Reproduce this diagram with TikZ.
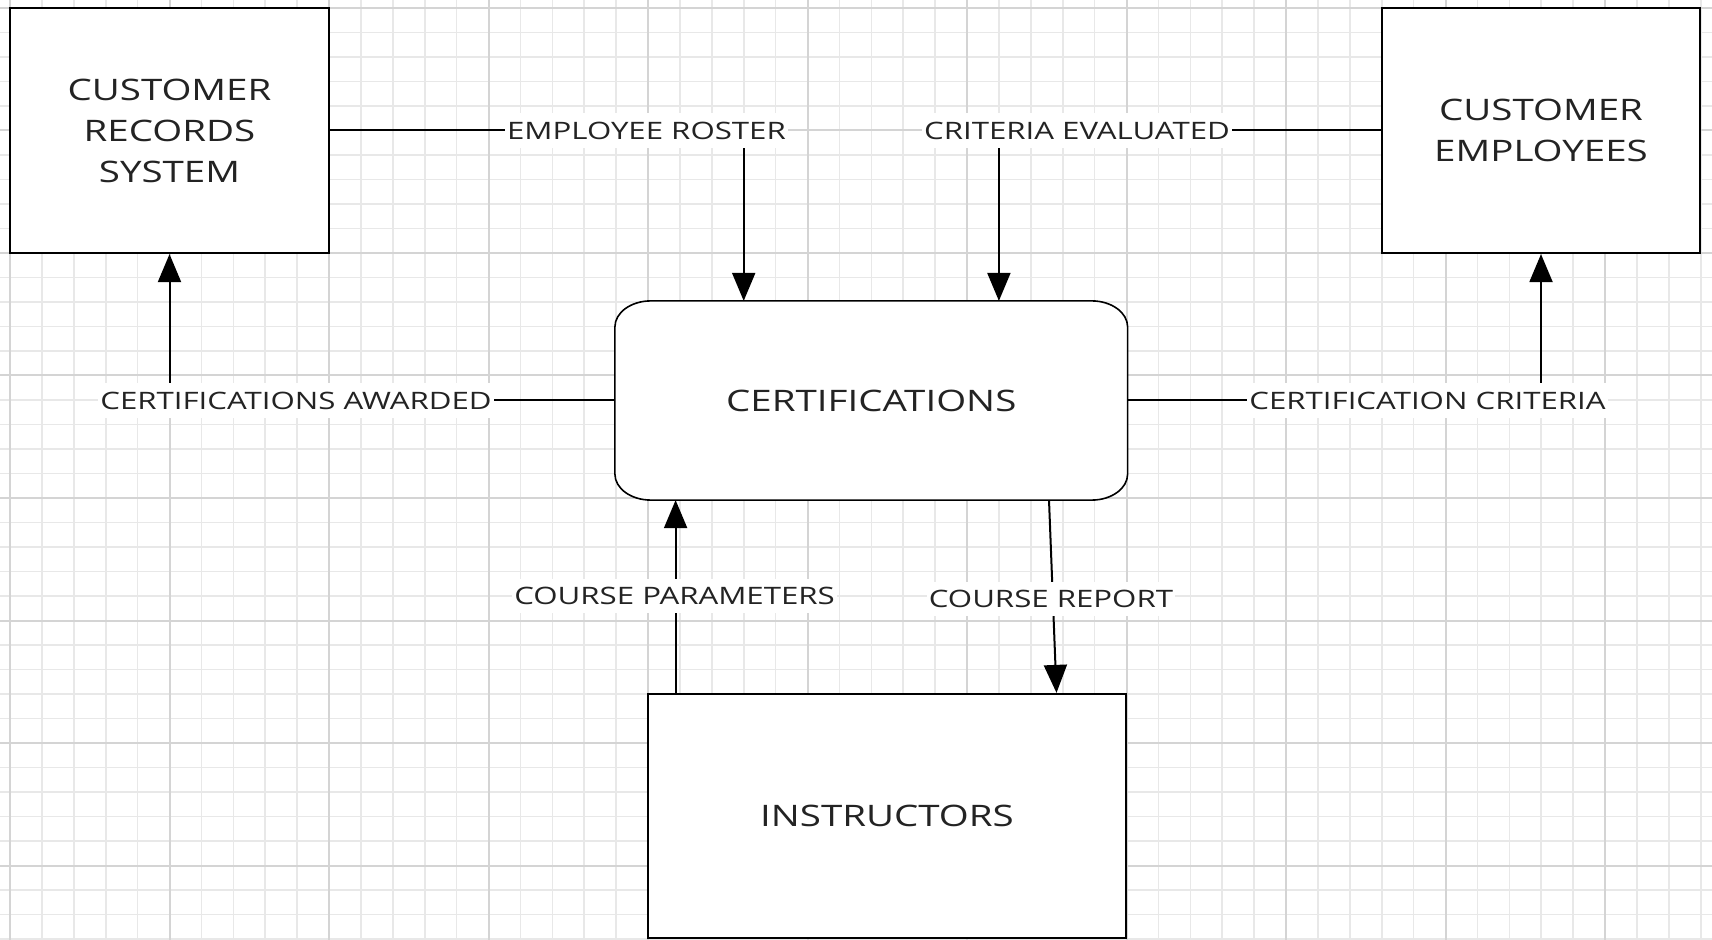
\documentclass[tikz,border=0pt]{standalone}
\usepackage{fontspec}
\setmainfont[FakeStretch=1.3]{Open Sans}
\usetikzlibrary{arrows.meta,calc}
\definecolor{gridminor}{RGB}{232,232,232}
\definecolor{gridmajor}{RGB}{212,212,212}
\definecolor{txt}{RGB}{35,35,35}
\pgfdeclarelayer{bg}
\pgfsetlayers{bg,main}
\begin{document}
\begin{tikzpicture}[x=0.5pt,y=-0.5pt,
 box/.style={draw=black, line width=1.1pt, fill=white, text=txt, align=center,
   font=\fontsize{14.8pt}{20.5pt}\selectfont, inner sep=0pt},
 lab/.style={fill=white, text=txt, font=\fontsize{12pt}{14pt}\selectfont,
   inner xsep=1pt, inner ysep=4.4pt, text height=8.6pt, text depth=0pt},
 flow/.style={line width=1pt, draw=black, -{Triangle[length=14pt,width=11.5pt]}},
 minorline/.style={draw=gridminor, line width=0.8pt},
 majorline/.style={draw=gridmajor, line width=1pt}
]
\useasboundingbox (0,0) rectangle (1712,940);
\begin{pgfonlayer}{bg}
\fill[white] (0,0) rectangle (1712,940);
\foreach \k in {0,...,53} \draw[minorline] ({10+31.9*\k},0) -- ({10+31.9*\k},940);
\foreach \k in {0,...,38} \draw[minorline] (0,{8+24.5*\k}) -- (1712,{8+24.5*\k});
\foreach \k in {0,5,...,50} \draw[majorline] ({10+31.9*\k},0) -- ({10+31.9*\k},940);
\foreach \k in {0,5,...,35} \draw[majorline] (0,{8+24.5*\k}) -- (1712,{8+24.5*\k});
\end{pgfonlayer}

% nodes
\node[box, minimum width=159.5pt, minimum height=122.5pt] (crs) at (169.5,130.5) {CUSTOMER\\RECORDS\\SYSTEM};
\node[box, minimum width=159pt, minimum height=122.5pt] (ce) at (1541,130.5) {CUSTOMER\\EMPLOYEES};
\node[box, draw=none, fill=none, minimum width=255.25pt, minimum height=98.5pt] (cert) at (871.25,400.5) {CERTIFICATIONS};
\node[box, minimum width=239pt, minimum height=122pt] (instr) at (887,816) {INSTRUCTORS};

\begin{pgfonlayer}{bg}
\path[fill=white, draw=black, line width=0.8pt]
  ($(cert.north west)+(36,0)$) -- ($(cert.north east)+(-36,0)$)
  arc[start angle=90,end angle=0,x radius=18pt,y radius=13pt]
  -- ($(cert.south east)+(0,-26)$)
  arc[start angle=0,end angle=-90,x radius=18pt,y radius=13pt]
  -- ($(cert.south west)+(36,0)$)
  arc[start angle=-90,end angle=-180,x radius=18pt,y radius=13pt]
  -- ($(cert.north west)+(0,26)$)
  arc[start angle=180,end angle=90,x radius=18pt,y radius=13pt]
  -- cycle;
\end{pgfonlayer}

% connectors
\coordinate (erc) at (743.7,130.5);
\draw[flow] (crs.east) -- (erc) -- (erc |- cert.north);
\node[lab] (er) at (646.5,130.5) {EMPLOYEE ROSTER};

\coordinate (cec) at (998.9,130.5);
\draw[flow] (ce.west) -- (cec) -- (cec |- cert.north);
\node[lab] (cev) at (1077,130.5) {CRITERIA EVALUATED};

\draw[flow] (cert.west) -- (crs.south |- cert.west) -- (crs.south);
\node[lab] (caw) at (296,400.5) {CERTIFICATIONS AWARDED};

\draw[flow] (cert.east) -- (ce.south |- cert.east) -- (ce.south);
\node[lab] (ccr) at (1427.5,400.5) {CERTIFICATION CRITERIA};

\coordinate (cp0) at ($(instr.north west)+(28.7,0)$);
\draw[flow] (cp0) -- (cp0 |- cert.south);
\node[lab] (cp) at (674.6,596) {COURSE PARAMETERS};

\coordinate (cr0) at ($(cert.south)+(177.75,0)$);
\coordinate (cr1) at ($(instr.north)+(169.5,0)$);
\draw[flow] (cr0) -- (cr1);
\node[lab] (crp) at (1051,599) {COURSE REPORT};
\end{tikzpicture}
\end{document}
